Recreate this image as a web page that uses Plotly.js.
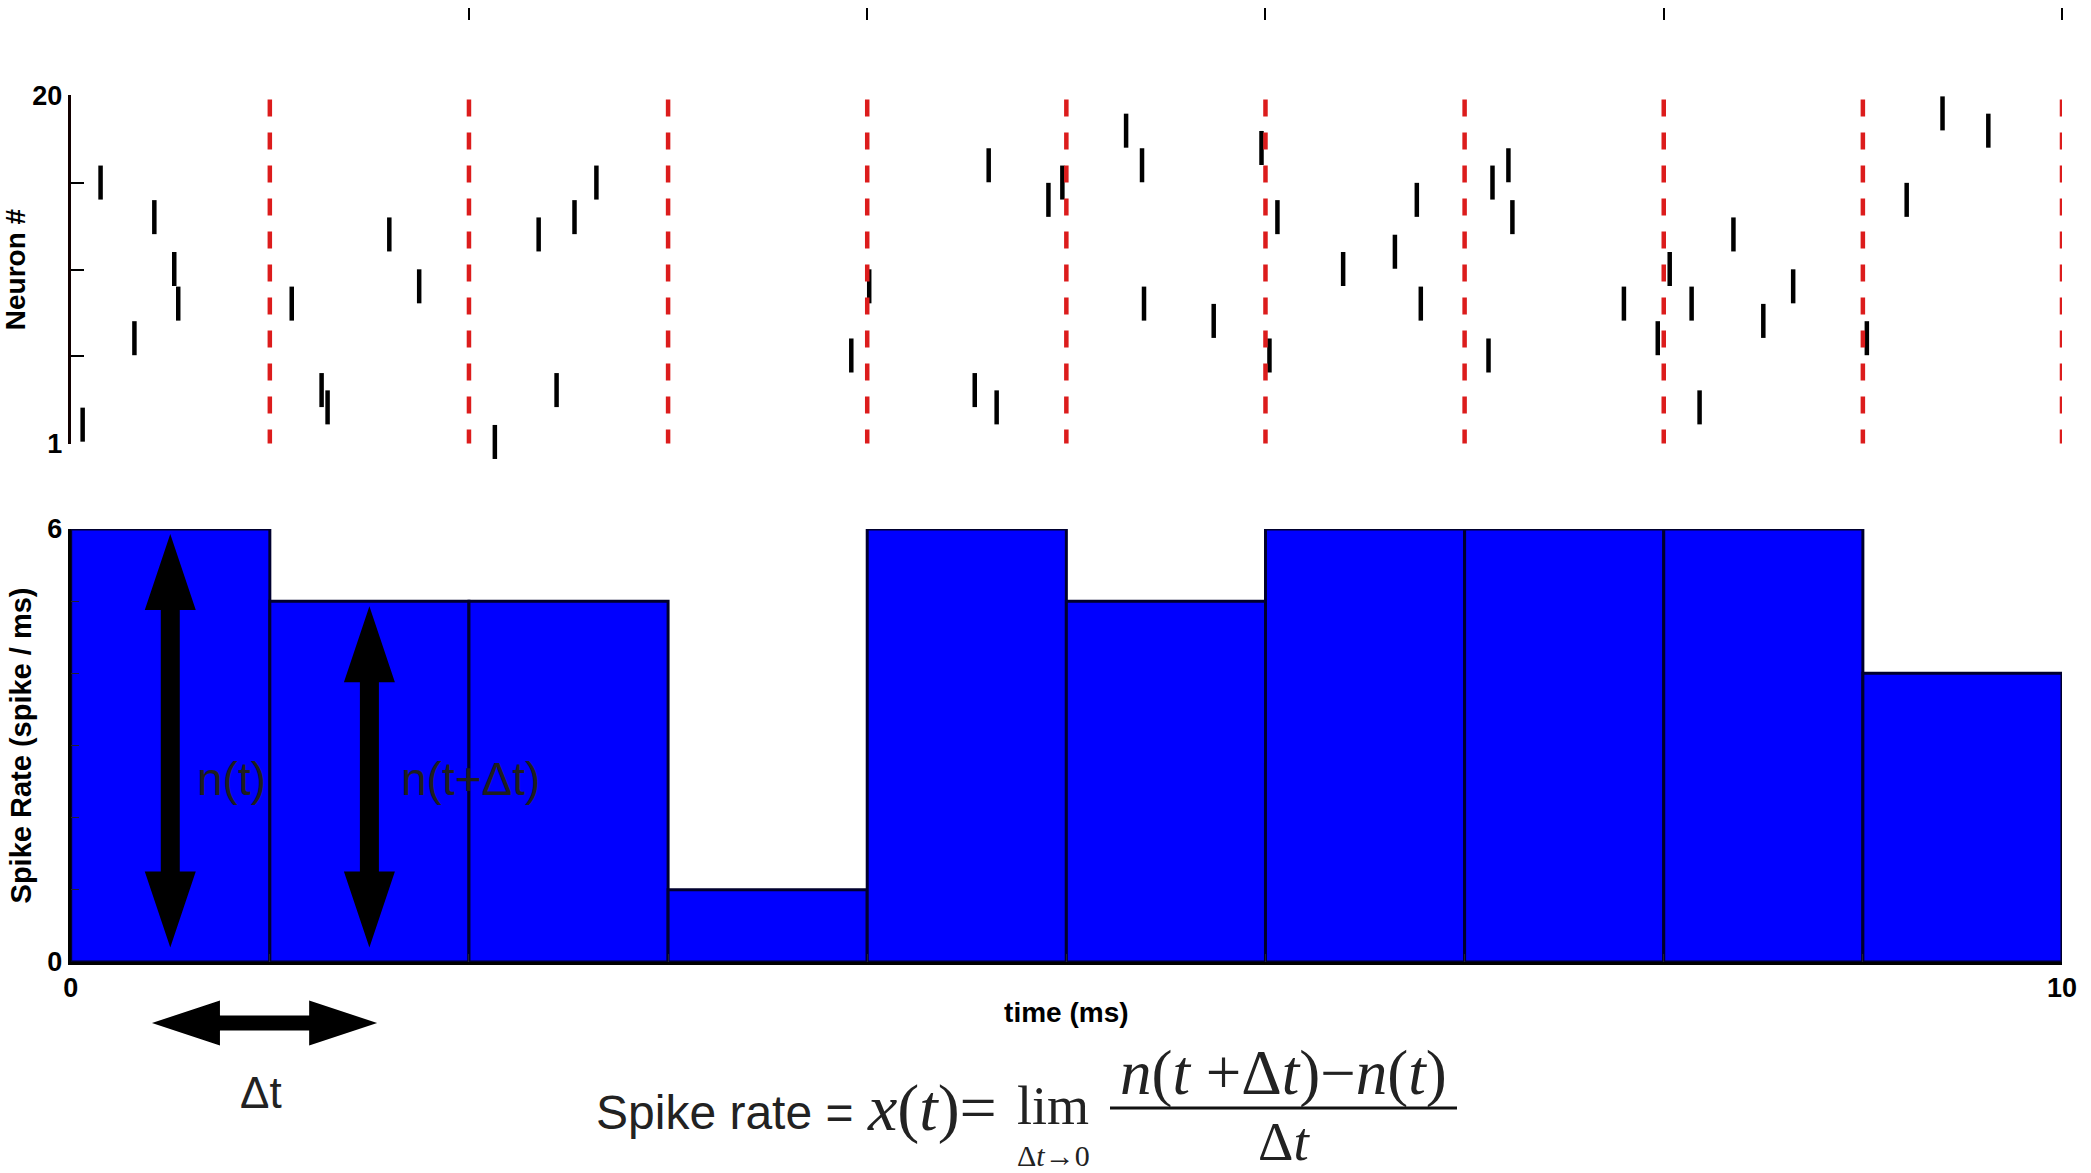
<!DOCTYPE html>
<html><head><meta charset="utf-8">
<script src="https://cdn.plot.ly/plotly-3.0.1.min.js"></script>
<style>html,body{margin:0;padding:0;background:#fff;} #chart{width:2091px;height:1173px;}</style>
</head><body><div id="chart"></div>
<script>
// ---- data ----
const spikeTimes   = [0.06,0.15,0.32,0.42,0.52,0.54, 1.11,1.26,1.29,1.60,1.75, 2.13,2.35,2.44,2.53,2.64,
                      3.92, 4.01,4.54,4.61,4.65,4.91,4.98, 5.30,5.38,5.39,5.74,5.98,
                      6.02,6.06,6.39,6.65,6.76,6.78, 7.12,7.14,7.22,7.24,7.80,7.97,
                      8.03,8.14,8.18,8.35,8.50,8.65, 9.02,9.22,9.40,9.63];
const spikeNeurons = [2,16,7,14,11,9, 9,4,3,13,10, 1,13,4,14,16,
                      6, 10,4,17,3,15,16, 19,17,9,8,18,
                      6,14,11,12,15,9, 6,16,17,14,9,7,
                      11,9,3,13,8,10, 7,15,20,19];
const binStarts  = [0,1,2,3,4,5,6,7,8,9];
const binWidth   = 1;
const spikeRate  = [6,5,5,1,6,5,6,6,6,4];
const binBoundaries = [1,2,3,4,5,6,7,8,9,10];
const topTicks   = [2,4,6,8,10];
const xTickLabels = ["0","","","","","","","","","","10"];
const rateTickLabels = ["0","","","","","","6"];
const neuronTickLabels = ["1","","","","20"];
const arrowBins = [0,1];            // bins marked n(t) and n(t+Δt)
const arrowLabels = ["n(t)","n(t+Δt)"];

// ---- helpers (figure is 2091 x 1173, margins 0) ----
const W = 2091, H = 1173;
const px = x => x / W;
const py = y => 1 - y / H;

const binCenters = binStarts.map(s => s + binWidth / 2);
const yRangeTop = [0.905, 21.04];
const tickEnds = [0.925, 21.02];
const neuronTickVals = [0,1,2,3,4].map(i => tickEnds[0] + i * (tickEnds[1] - tickEnds[0]) / 4);

const sans = 'Liberation Sans, Arial, sans-serif';
const serif = 'Liberation Serif, Times New Roman, serif';
const boldTick = {family: sans, size: 27, weight: 'bold', color: '#000'};

const traces = [
  {
    type: 'bar', x: binCenters, y: spikeRate, width: binWidth,
    marker: {color: '#0000ff', line: {color: '#00002e', width: 3}},
    xaxis: 'x', yaxis: 'y', hoverinfo: 'skip'
  },
  {
    type: 'scatter', mode: 'markers', x: spikeTimes, y: spikeNeurons,
    marker: {symbol: 'line-ns', size: 24.3, color: '#000', line: {color: '#000', width: 4.5}},
    cliponaxis: false, xaxis: 'x2', yaxis: 'y2', hoverinfo: 'skip'
  }
];

const shapes = [];
// red dashed bin boundaries on the raster
binBoundaries.forEach(t => shapes.push({
  type: 'line', xref: 'x2', yref: 'y2 domain', x0: t, x1: t, y0: 0.988, y1: 0,
  line: {color: '#dc1c1c', width: 4.5, dash: '17px,16px'}
}));
// vertical double arrows n(t), n(t+Δt)
const headW = 25.5, shaftW = 9.5, headL = 1.053, base = 0.2;
arrowBins.forEach(b => {
  const top = spikeRate[b] - 0.07;
  const p = `M0,${top} L${headW},${top - headL} L${shaftW},${top - headL} L${shaftW},${base + headL} ` +
            `L${headW},${base + headL} L0,${base} L${-headW},${base + headL} L${-shaftW},${base + headL} ` +
            `L${-shaftW},${top - headL} L${-headW},${top - headL} Z`;
  shapes.push({type: 'path', xref: 'x', yref: 'y', xsizemode: 'pixel', xanchor: binCenters[b],
               path: p, fillcolor: '#000', line: {width: 0}});
});
// horizontal Δt double arrow
{
  const x0 = 0.408, x1 = 1.539, hl = 0.3415, hh = 22.5, sh = 7.5;
  const p = `M${x0},0 L${x0 + hl},${hh} L${x0 + hl},${sh} L${x1 - hl},${sh} L${x1 - hl},${hh} L${x1},0 ` +
            `L${x1 - hl},${-hh} L${x1 - hl},${-sh} L${x0 + hl},${-sh} L${x0 + hl},${-hh} Z`;
  shapes.push({type: 'path', xref: 'x', yref: 'paper', ysizemode: 'pixel', yanchor: py(1023),
               path: p, fillcolor: '#000', line: {width: 0}});
}
// fraction bar of the formula
shapes.push({type: 'line', xref: 'paper', yref: 'paper', x0: px(1110), x1: px(1457), y0: py(1108), y1: py(1108),
             line: {color: '#111', width: 3}});

const txt = '#222';
const ann = (x, y, text, font, xanchor) => ({xref: 'paper', yref: 'paper', x: px(x), y: py(y), text: text,
  showarrow: false, xanchor: xanchor || 'center', yanchor: 'middle', borderpad: 0, font: font});
const annotations = [];
arrowBins.forEach((b, i) => annotations.push({
  xref: 'x', yref: 'y', x: [0.805, 2.006][i], y: 2.54, showarrow: false, xanchor: 'center', yanchor: 'middle',
  text: arrowLabels[i], font: {family: sans, size: 46, color: '#1e1e1e'}
}));
annotations.push(
  ann(260.5, 1092, 'Δt', {family: sans, size: 44, color: txt}),
  ann(595, 1112, 'Spike rate =', {family: sans, size: 48, color: txt}, 'left'),
  ann(866, 1108, '<i>x</i>(<i>t</i>)=', {family: serif, size: 66, color: txt}, 'left'),
  ann(1053, 1106, 'lim', {family: serif, size: 54, color: txt}),
  ann(1053, 1155, 'Δ<i>t</i>→0', {family: serif, size: 30, color: txt}),
  ann(1283, 1073, '<i>n</i>(<i>t</i> +Δ<i>t</i>)−<i>n</i>(<i>t</i>)', {family: serif, size: 63, color: txt}),
  ann(1284, 1141, 'Δ<i>t</i>', {family: serif, size: 55, color: txt})
);

const xDomain = [px(70.7), px(2062)];
const layout = {
  width: W, height: H, margin: {l: 0, r: 0, t: 0, b: 0},
  paper_bgcolor: '#fff', plot_bgcolor: 'rgba(0,0,0,0)', showlegend: false,
  bargap: 0,
  xaxis: {
    domain: xDomain, range: [0, 10], anchor: 'y', showgrid: false, zeroline: false,
    showline: true, linecolor: '#000', linewidth: 3,
    ticks: 'inside', ticklen: 8, tickwidth: 1, tickcolor: '#223',
    tickvals: [0,1,2,3,4,5,6,7,8,9,10], ticktext: xTickLabels, tickfont: boldTick, ticklabelstandoff: 0,
    title: {text: 'time (ms)', font: {family: sans, size: 28, weight: 'bold', color: '#000'}, standoff: 0}
  },
  yaxis: {
    domain: [py(962), py(529)], range: [0, 6], anchor: 'x', showgrid: false, zeroline: false,
    showline: true, linecolor: '#000', linewidth: 3,
    ticks: 'inside', ticklen: 8, tickwidth: 1, tickcolor: '#223',
    tickvals: [0,1,2,3,4,5,6], ticktext: rateTickLabels, tickfont: boldTick,
    title: {text: 'Spike Rate (spike / ms)', font: {family: sans, size: 29, weight: 'bold', color: '#000'}, standoff: 8}
  },
  xaxis2: {
    domain: xDomain, range: [0, 10], anchor: 'free', position: py(20), side: 'top',
    showgrid: false, zeroline: false, showline: false,
    ticks: 'outside', ticklen: 12, tickwidth: 2, tickcolor: '#000',
    tickvals: topTicks, showticklabels: false
  },
  yaxis2: {
    domain: [py(443.6), py(95.4)], range: yRangeTop, anchor: 'x2', showgrid: false, zeroline: false,
    showline: true, linecolor: '#100', linewidth: 3,
    ticks: 'inside', ticklen: 13, tickwidth: 2, tickcolor: '#000',
    tickvals: neuronTickVals, ticktext: neuronTickLabels, tickfont: boldTick,
    title: {text: 'Neuron #', font: {family: sans, size: 28, weight: 'bold', color: '#000'}, standoff: 0}
  },
  shapes: shapes,
  annotations: annotations
};

Plotly.newPlot('chart', traces, layout, {displayModeBar: false, staticPlot: true});
</script>
</body></html>
